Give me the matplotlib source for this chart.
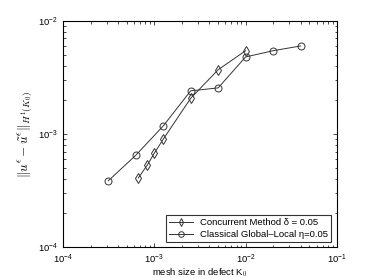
import matplotlib
matplotlib.use("Agg")
import matplotlib.pyplot as plt

plt.rcParams['font.family'] = ['Liberation Sans', 'DejaVu Sans']
plt.rcParams['mathtext.fontset'] = 'cm'

# Concurrent method (diamonds)
conc_h = [6.67e-4, 8.33e-4, 1.0e-3, 1.25e-3, 2.5e-3, 5.0e-3, 1.0e-2]
conc_err = [4.1e-4, 5.3e-4, 6.8e-4, 9.0e-4, 2.07e-3, 3.7e-3, 5.45e-3]

# Classical global-local (circles)
cgl_h = [3.125e-4, 6.25e-4, 1.25e-3, 2.5e-3, 5.0e-3, 1.0e-2, 2.0e-2, 4.0e-2]
cgl_err = [3.87e-4, 6.5e-4, 1.18e-3, 2.41e-3, 2.56e-3, 4.8e-3, 5.45e-3, 6.0e-3]

labels = ['Concurrent Method δ = 0.05', 'Classical Global–Local η=0.05']

fig = plt.figure(figsize=(3.71, 2.78), dpi=100)
ax = fig.add_axes([0.17, 0.11, 0.738, 0.815])

ax.loglog(conc_h, conc_err, '-', color='#333333', lw=0.7, marker='d',
          ms=5, mfc='none', mec='#333333', mew=0.7, label=labels[0])
ax.loglog(cgl_h, cgl_err, '-', color='#333333', lw=0.7, marker='o',
          ms=5, mfc='none', mec='#333333', mew=0.7, label=labels[1])

ax.set_xlim(1e-4, 1e-1)
ax.set_ylim(1e-4, 1e-2)
ax.tick_params(which='both', direction='in', top=True, right=True,
               labelsize=6.8, width=0.5)
ax.tick_params(which='major', length=3)
ax.tick_params(which='minor', length=1.8)
for s in ax.spines.values():
    s.set_linewidth(0.8)

ax.set_xlabel('mesh size in defect K$_0$', fontsize=6.8, labelpad=0)
ax.xaxis.set_label_coords(0.5, -0.085)
ax.set_ylabel(r'$\|u^{\epsilon}-\tilde{u}^{\epsilon}\|_{H^1(K_0)}$', fontsize=9.5, labelpad=3)

leg = ax.legend(loc='lower right', fontsize=6.8, frameon=True, fancybox=False,
                edgecolor='black', borderpad=0.3, handlelength=2.5,
                labelspacing=0.3, borderaxespad=0.6, markerscale=0.8)
leg.get_frame().set_linewidth(0.8)

fig.savefig('out.png', dpi=100)
